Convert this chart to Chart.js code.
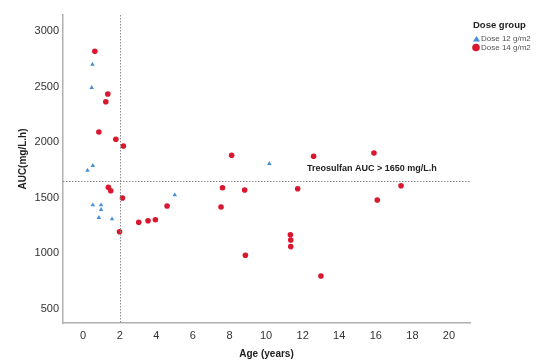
<!DOCTYPE html>
<html lang="en">
<head>
    <meta charset="UTF-8">
    <title>AUC vs Age</title>
    <script src="https://cdn.jsdelivr.net/npm/chart.js"></script>
    <style>
        body { margin: 0; background: #fff; }
        #wrap { width: 542px; height: 361px; position: relative; }
    </style>
</head>
<body>
<div id="wrap"><canvas id="aucChart"></canvas></div>
<script>
    // Dose 12 g/m2 (triangles)
    const dose12Age = [0.51, 0.47, 0.53, 0.24, 0.53, 0.98, 0.98, 0.86, 1.58, 5.01, 10.18];
    const dose12Auc = [2700, 2490, 1789, 1747, 1435, 1435, 1393, 1321, 1309, 1525, 1807];

    // Dose 14 g/m2 (circles)
    const dose14Age = [0.64, 1.35, 1.24, 0.86, 1.79, 2.2, 1.38, 1.51, 2.15, 1.99, 3.04, 3.55, 3.95, 4.59,
                       8.12, 12.6, 15.9, 7.62, 7.54, 8.83, 11.73, 11.33, 11.35, 11.35, 8.87, 13.0, 16.08, 17.38];
    const dose14Auc = [2817, 2433, 2364, 2092, 2026, 1966, 1594, 1564, 1498, 1195, 1280, 1294, 1303, 1426,
                       1882, 1873, 1903, 1591, 1417, 1570, 1582, 1168, 1121, 1061, 983, 797, 1480, 1608];

    const xTicks = [0, 2, 4, 6, 8, 10, 12, 14, 16, 18, 20];
    const yTicks = [500, 1000, 1500, 2000, 2500, 3000];

    const ageCutoff = 2;
    const aucTarget = 1650;
    const targetLabel = "Treosulfan AUC > 1650 mg/L.h";

    const blue = '#4390d4';
    const red = '#d9172e';

    function toPoints(xs, ys) {
        return xs.map((x, i) => ({ x: x, y: ys[i] }));
    }

    // reference lines, text, legend and axis titles
    const extras = {
        id: 'extras',
        afterDatasetsDraw(chart) {
            const ctx = chart.ctx;
            const xs = chart.scales.x, ys = chart.scales.y;
            const area = chart.chartArea;
            ctx.save();
            ctx.strokeStyle = '#8a8a8a';
            ctx.lineWidth = 1;
            ctx.setLineDash([1.5, 1.5]);
            const px = Math.round(xs.getPixelForValue(ageCutoff)) + 0.5;
            ctx.beginPath();
            ctx.moveTo(px, area.top);
            ctx.lineTo(px, area.bottom);
            ctx.stroke();
            const py = Math.round(ys.getPixelForValue(aucTarget)) + 0.5;
            ctx.beginPath();
            ctx.moveTo(area.left, py);
            ctx.lineTo(area.right, py);
            ctx.stroke();
            ctx.setLineDash([]);

            ctx.fillStyle = '#222';
            ctx.font = 'bold 9px "Liberation Sans", Arial, sans-serif';
            ctx.textBaseline = 'middle';
            ctx.textAlign = 'left';
            ctx.fillText(targetLabel, 307, py - 13);
            ctx.restore();
        },
        afterDraw(chart) {
            const ctx = chart.ctx;
            const area = chart.chartArea;
            ctx.save();
            ctx.fillStyle = '#222';
            ctx.font = 'bold 10px "Liberation Sans", Arial, sans-serif';
            ctx.textAlign = 'center';
            ctx.textBaseline = 'middle';
            ctx.fillText('Age (years)', (area.left + area.right) / 2, 354);
            ctx.translate(23, 159);
            ctx.rotate(-Math.PI / 2);
            ctx.fillText('AUC(mg/L.h)', 0, 0);
            ctx.restore();

            // legend
            ctx.save();
            ctx.fillStyle = '#222';
            ctx.font = 'bold 9.5px "Liberation Sans", Arial, sans-serif';
            ctx.textAlign = 'left';
            ctx.textBaseline = 'middle';
            ctx.fillText('Dose group', 473, 25);
            ctx.font = '8px "Liberation Sans", Arial, sans-serif';
            chart.data.datasets.forEach((ds, i) => {
                const cy = 39 + i * 8.5;
                ctx.fillStyle = ds.backgroundColor;
                ctx.beginPath();
                if (ds.pointStyle === 'triangle') {
                    ctx.moveTo(476.5, cy - 3);
                    ctx.lineTo(480, cy + 2.5);
                    ctx.lineTo(473, cy + 2.5);
                    ctx.closePath();
                } else {
                    ctx.arc(476, cy, 3.8, 0, Math.PI * 2);
                }
                ctx.fill();
                ctx.fillStyle = '#555';
                ctx.fillText(ds.label, 481, cy);
            });
            ctx.restore();
        }
    };

    new Chart(document.getElementById('aucChart'), {
        type: 'scatter',
        data: {
            datasets: [{
                label: 'Dose 12 g/m2',
                data: toPoints(dose12Age, dose12Auc),
                pointStyle: 'triangle',
                pointRadius: 2.6,
                backgroundColor: blue,
                borderWidth: 0
            }, {
                label: 'Dose 14 g/m2',
                data: toPoints(dose14Age, dose14Auc),
                pointStyle: 'circle',
                pointRadius: 2.8,
                backgroundColor: red,
                borderWidth: 0
            }]
        },
        options: {
            responsive: true,
            maintainAspectRatio: false,
            animation: false,
            layout: { padding: { left: 0, right: 72, top: 15, bottom: 0 } },
            plugins: {
                legend: { display: false },
                tooltip: { enabled: false }
            },
            scales: {
                x: {
                    type: 'linear',
                    min: -1.1,
                    max: 21.15,
                    afterBuildTicks: s => { s.ticks = xTicks.map(v => ({ value: v })); },
                    afterFit: s => { s.height = 38; },
                    grid: { display: false },
                    border: { display: true, color: '#b0b0b0', width: 1.5 },
                    ticks: {
                        padding: -2,
                        color: '#333',
                        font: { size: 11, family: '"Liberation Sans", Arial, sans-serif' },
                        callback: v => String(v)
                    }
                },
                y: {
                    type: 'linear',
                    min: 374,
                    max: 3144,
                    afterBuildTicks: s => { s.ticks = yTicks.map(v => ({ value: v })); },
                    afterFit: s => { s.width = 63; },
                    grid: { display: false },
                    border: { display: true, color: '#b0b0b0', width: 1.5 },
                    ticks: {
                        padding: -4,
                        color: '#333',
                        font: { size: 11, family: '"Liberation Sans", Arial, sans-serif' },
                        callback: v => String(v)
                    }
                }
            }
        },
        plugins: [extras]
    });
</script>
</body>
</html>
